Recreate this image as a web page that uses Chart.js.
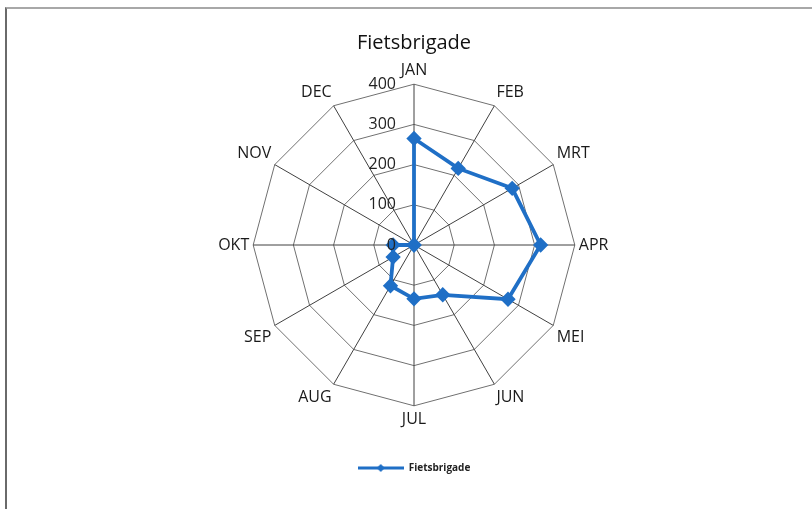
<!DOCTYPE html>
<html>
<head>
<meta charset="utf-8">
<script src="https://cdn.jsdelivr.net/npm/chart.js@4/dist/chart.umd.min.js"></script>
<style>
  html, body { margin: 0; padding: 0; background: #fff; }
  #wrap { position: relative; width: 812px; height: 509px; }
  #frame { position: absolute; left: 5px; top: 7px; right: 0; bottom: 0;
           border-left: 2px solid #6a6a6a; border-top: 2px solid #a8a8a8; pointer-events: none; }
</style>
</head>
<body>
<div id="wrap">
  <canvas id="grafico" width="812" height="509"></canvas>
  <div id="frame"></div>
</div>
<script>
const maanden = ['JAN', 'FEB', 'MRT', 'APR', 'MEI', 'JUN', 'JUL', 'AUG', 'SEP', 'OKT', 'NOV', 'DEC'];
const fietsbrigade = [265, 220, 282, 315, 270, 143, 134, 117, 60, 52, 0, 0];
const tickWaarden = [0, 100, 200, 300, 400];

const blauw = '#1f6fc6';

// legend symbol: line with a diamond in the middle
const legendIcon = document.createElement('canvas');
legendIcon.width = 46;
legendIcon.height = 10;
const lctx = legendIcon.getContext('2d');
lctx.strokeStyle = blauw;
lctx.lineWidth = 3;
lctx.beginPath();
lctx.moveTo(0, 5);
lctx.lineTo(46, 5);
lctx.stroke();
lctx.fillStyle = blauw;
lctx.beginPath();
lctx.moveTo(23, 1);
lctx.lineTo(27, 5);
lctx.lineTo(23, 9);
lctx.lineTo(19, 5);
lctx.closePath();
lctx.fill();

// tick labels to the left of the JAN axis
const tickLabels = {
   id: 'tickLabels',
   afterDatasetsDraw(chart) {
      const s = chart.scales.r;
      const ctx = chart.ctx;
      ctx.save();
      ctx.font = '16px "Open Sans"';
      ctx.fillStyle = '#222';
      ctx.textAlign = 'right';
      ctx.textBaseline = 'middle';
      tickWaarden.forEach(v => {
         const d = s.getDistanceFromCenterForValue(v);
         ctx.fillText(String(v), s.xCenter - 18, s.yCenter - d);
      });
      ctx.restore();
   }
};

const ctx = document.getElementById('grafico').getContext('2d');
new Chart(ctx, {
   type: 'radar',
   data: {
      labels: maanden,
      datasets: [{
         label: 'Fietsbrigade',
         data: fietsbrigade,
         borderColor: blauw,
         backgroundColor: blauw,
         borderWidth: 3.8,
         fill: false,
         pointStyle: 'rectRot',
         pointRadius: 5,
         pointBackgroundColor: blauw,
         pointBorderColor: blauw,
         tension: 0
      }]
   },
   options: {
      responsive: false,
      animation: false,
      layout: { padding: { top: 13, bottom: 26, left: 16, right: 0 } },
      scales: {
         r: {
            min: 0,
            max: 400,
            ticks: { display: false, stepSize: 100 },
            grid: { color: '#707070', lineWidth: 1 },
            angleLines: { color: '#404040', lineWidth: 1 },
            pointLabels: {
               font: { family: 'Open Sans', size: 16 },
               color: '#1a1a1a',
               padding: 4
            }
         }
      },
      plugins: {
         title: {
            display: true,
            text: 'Fietsbrigade',
            font: { family: 'Open Sans', size: 20, weight: 'normal' },
            color: '#111',
            padding: { top: 18, bottom: 6 }
         },
         legend: {
            position: 'bottom',
            labels: {
               usePointStyle: true,
               pointStyle: legendIcon,
               pointStyleWidth: 46,
               font: { family: 'Open Sans', size: 10, weight: 'bold' },
               color: '#222',
               padding: 33
            }
         },
         tooltip: { enabled: false }
      }
   },
   plugins: [tickLabels]
});
</script>
</body>
</html>
